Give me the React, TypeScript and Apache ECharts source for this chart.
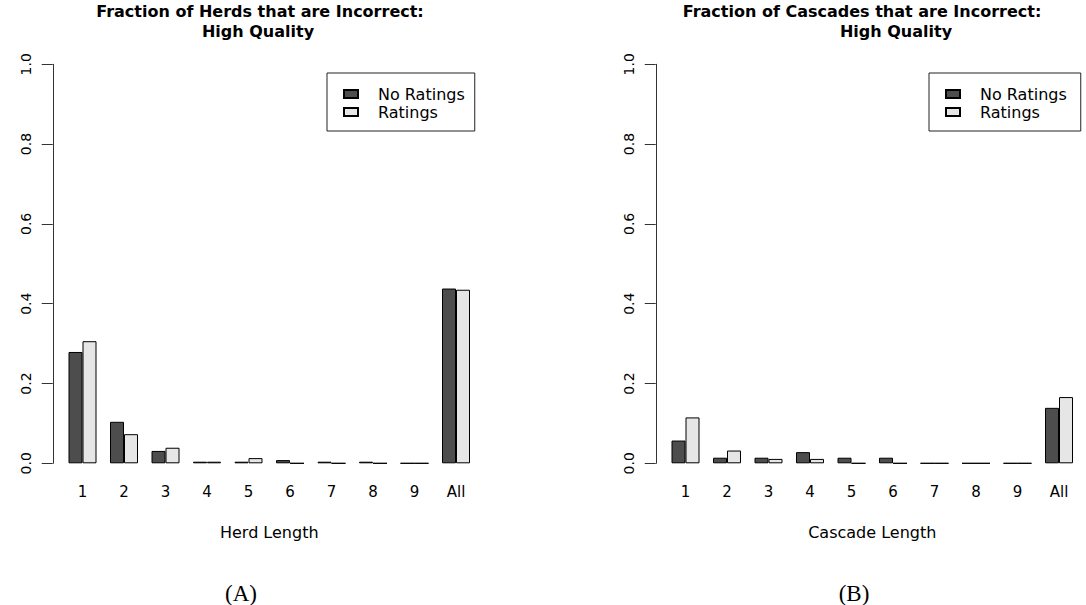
import React, { useEffect, useRef } from "react";
import * as echarts from "echarts";

const categories = ["1", "2", "3", "4", "5", "6", "7", "8", "9", "All"];
const herdNoRatings = [0.279, 0.104, 0.031, 0.004, 0.004, 0.008, 0.004, 0.004, 0, 0.438];
const herdRatings = [0.306, 0.073, 0.039, 0.004, 0.013, 0, 0, 0, 0, 0.435];
const cascadeNoRatings = [0.057, 0.014, 0.014, 0.028, 0.014, 0.014, 0, 0, 0, 0.139];
const cascadeRatings = [0.115, 0.032, 0.011, 0.011, 0, 0, 0, 0, 0, 0.166];
const yTicks = [0, 0.2, 0.4, 0.6, 0.8, 1.0];
const seriesNames = ["No Ratings", "Ratings"];

const FONT = "DejaVu Sans";
const DARK = "#4d4d4d";
const LIGHT = "#e6e6e6";

export default function App() {
  const ref = useRef<HTMLDivElement>(null);
  useEffect(() => {
    document.body.style.margin = "0";
    if (!ref.current) return;
    const chart = echarts.init(ref.current, null, { renderer: "svg" });
    const xAxisBase = (gridIndex: number, name: string) => ({
      type: "category",
      gridIndex,
      data: categories,
      name,
      nameLocation: "middle",
      nameGap: 61,
      nameTextStyle: { fontFamily: FONT, fontSize: 16, color: "#000" },
      axisLine: { show: false },
      axisTick: { show: false },
      axisLabel: { fontFamily: FONT, fontSize: 15, color: "#000", margin: 21 },
    });
    const yAxisBase = (gridIndex: number) => ({
      type: "value",
      gridIndex,
      min: yTicks[0],
      max: yTicks[yTicks.length - 1],
      interval: 0.2,
      offset: 9,
      axisLine: { show: true, lineStyle: { color: "#333", width: 1 } },
      axisTick: { show: true, length: 11, lineStyle: { color: "#333", width: 1 } },
      splitLine: { show: false },
      axisLabel: {
        rotate: 90,
        fontFamily: FONT,
        fontSize: 14,
        color: "#000",
        margin: 20,
        formatter: (v: number) => v.toFixed(1),
      },
    });
    const barSeries = (name: string, data: number[], idx: number, color: string) => ({
      type: "bar",
      name,
      data,
      xAxisIndex: idx,
      yAxisIndex: idx,
      barWidth: 14,
      barGap: "0%",
      itemStyle: { color, borderColor: "#000", borderWidth: 1 },
    });
    const legendBase = (left: number, padRight: number) => ({
      orient: "vertical",
      left,
      top: 73,
      data: seriesNames,
      icon: "rect",
      itemWidth: 14,
      itemHeight: 8,
      itemGap: 0,
      padding: [12, padRight, 10, 16],
      borderColor: "#222",
      borderWidth: 1,
      borderRadius: 0,
      selectedMode: false,
      textStyle: {
        fontFamily: FONT,
        fontSize: 16,
        color: "#000",
        lineHeight: 18,
        padding: [0, 0, 0, 15],
      },
    });
    const titleText = (text: string, x: number, y: number) => ({
      type: "text",
      x,
      y,
      style: {
        text,
        fontFamily: FONT,
        fontWeight: "bold",
        fontSize: 16,
        fill: "#000",
        textAlign: "center",
        textVerticalAlign: "middle",
      },
    });
    const capText = (text: string, x: number) => ({
      type: "text",
      x,
      y: 593,
      style: {
        text,
        fontFamily: "Liberation Serif",
        fontSize: 23,
        fill: "#000",
        textAlign: "center",
        textVerticalAlign: "middle",
      },
    });
    chart.setOption({
      animation: false,
      backgroundColor: "#fff",
      grid: [
        { left: 61.75, width: 415, top: 64.3, height: 399 },
        { left: 664.75, width: 415, top: 64.3, height: 399 },
      ],
      xAxis: [xAxisBase(0, "Herd Length"), xAxisBase(1, "Cascade Length")],
      yAxis: [yAxisBase(0), yAxisBase(1)],
      legend: [legendBase(327, 10), legendBase(929, 14)],
      series: [
        barSeries(seriesNames[0], herdNoRatings, 0, DARK),
        barSeries(seriesNames[1], herdRatings, 0, LIGHT),
        barSeries(seriesNames[0], cascadeNoRatings, 1, DARK),
        barSeries(seriesNames[1], cascadeRatings, 1, LIGHT),
      ],
      graphic: [
        titleText("Fraction of Herds that are Incorrect:", 260, 11.5),
        titleText("High Quality", 258, 31),
        titleText("Fraction of Cascades that are Incorrect:", 862, 11.5),
        titleText("High Quality", 896, 31),
        capText("(A)", 241),
        capText("(B)", 854),
      ],
    });
    return () => chart.dispose();
  }, []);
  return (
    <div
      ref={ref}
      style={{ position: "absolute", left: 0, top: 0, width: 1086, height: 605 }}
    />
  );
}
